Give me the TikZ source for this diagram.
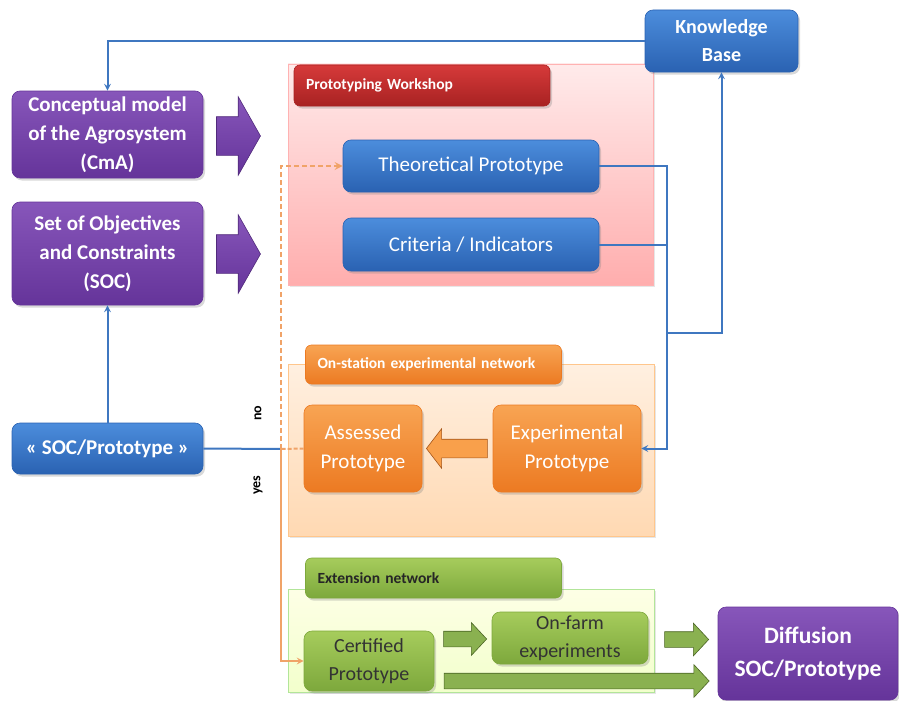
\documentclass[tikz,border=0pt]{standalone}
\usepackage{fontspec}
\setmainfont{Carlito}
\usetikzlibrary{shapes.arrows,shadows}

\definecolor{bluetop}{HTML}{4C8DDC}
\definecolor{bluebot}{HTML}{2A62B2}
\definecolor{blueline}{HTML}{3F77C0}
\definecolor{purptop}{HTML}{8756BA}
\definecolor{purpbot}{HTML}{65349A}
\definecolor{redtop}{HTML}{D63A3A}
\definecolor{redbot}{HTML}{A82222}
\definecolor{orgtop}{HTML}{F8A453}
\definecolor{orgbot}{HTML}{EC7A22}
\definecolor{grntop}{HTML}{A6CC5C}
\definecolor{grnbot}{HTML}{7DA83C}
\definecolor{orgline}{HTML}{F0A368}

\tikzstyle{box}=[shape=rectangle,
                rounded corners=8pt,
                align=center,
                inner sep=2pt,
                drop shadow={shadow xshift=2pt,shadow yshift=-2.5pt,opacity=.3}]
\tikzstyle{bbox}=[box,top color=bluetop,bottom color=bluebot,draw=bluebot,text=white]
\tikzstyle{pbox}=[box,top color=purptop,bottom color=purpbot,draw=purpbot,text=white,
                font=\bfseries\fontsize{21}{29}\selectfont]
\tikzstyle{obox}=[box,top color=orgtop,bottom color=orgbot,draw=orgbot,text=white,
                font=\fontsize{21}{29}\selectfont]
\tikzstyle{gbox}=[box,top color=grntop,bottom color=grnbot,draw=grnbot,text=black!80,
                font=\fontsize{20}{28}\selectfont]
\tikzstyle{zone}=[shape=rectangle,inner sep=0pt,
                drop shadow={shadow xshift=2pt,shadow yshift=-2pt,opacity=.2}]
\tikzstyle{tab}=[box,rounded corners=6pt,text width=232pt,align=left,
                inner xsep=12pt,font=\bfseries\fontsize{15.5}{17}\selectfont]
\tikzstyle{fat}=[single arrow,inner xsep=0pt,shape border uses incircle=false]
\tikzstyle{parrow}=[fat,top color=purptop,bottom color=purpbot,draw=purpbot!80!black,
                inner ysep=19pt,minimum height=44pt,single arrow head extend=20pt,
                single arrow tip angle=121]
\tikzstyle{garrow}=[fat,fill=grnbot!90!white,draw=grnbot!60!black,
                inner ysep=7.5pt,single arrow head extend=8.5pt,
                single arrow tip angle=94]

\begin{document}
\begin{tikzpicture}[x=1pt,y=-1pt,>=stealth,semithick]
\useasboundingbox (0,0) rectangle (899,701);

% group zones
\node[zone,top color=red!8,bottom color=red!32,draw=red!30,
      minimum width=365pt,minimum height=221pt] (pw) at (470.5,174.5) {};
\node[zone,top color=orange!12,bottom color=orange!30,draw=orange!45,
      minimum width=366pt,minimum height=172pt] (os) at (471,450) {};
\node[zone,top color=green!6!yellow!10,bottom color=green!25!yellow!20,draw=green!50!olive!40,
      minimum width=366pt,minimum height=103pt] (ex) at (471,640.5) {};

% zone titles
\node[tab,top color=redtop,bottom color=redbot,draw=redbot,text=white,
      minimum height=41pt] (pwt) at (422,85.5) {Prototyping Workshop};
\node[tab,top color=orgtop,bottom color=orgbot,draw=orgbot,text=white,
      minimum height=39pt] (ost) at (433.5,364.5) {On-station experimental network};
\node[tab,top color=grntop,bottom color=grnbot,draw=grnbot,text=black!85,
      minimum height=40pt] (ext) at (433.5,578) {Extension network};

% left column
\node[pbox,minimum width=191pt,minimum height=87pt] (cma) at (107.5,134.5)
     {Conceptual model\\of the Agrosystem\\(CmA)};
\node[pbox,minimum width=191pt,minimum height=103pt] (soc) at (107.5,253.5)
     {Set of Objectives\\and Constraints\\(SOC)};
\node[bbox,minimum width=191pt,minimum height=51pt,
      font=\bfseries\fontsize{21}{28}\selectfont] (socp) at (107.5,448.5)
     {« SOC/Prototype »};

% knowledge base
\node[bbox,minimum width=153pt,minimum height=62pt,
      font=\bfseries\fontsize{20}{28}\selectfont] (kb) at (721.5,41) {Knowledge\\Base};

% prototyping workshop
\node[bbox,minimum width=256pt,minimum height=52pt,
      font=\fontsize{21}{28}\selectfont] (tp) at (471,166) {Theoretical Prototype};
\node[bbox,minimum width=256pt,minimum height=53pt,
      font=\fontsize{21}{28}\selectfont] (ci) at (471,244.5) {Criteria / Indicators};

% on-station network
\node[obox,minimum width=118pt,minimum height=87pt] (ap) at (363,448.5) {Assessed\\Prototype};
\node[obox,minimum width=148pt,minimum height=87pt] (ep) at (567,448.5) {Experimental\\Prototype};

% extension network
\node[gbox,minimum width=130pt,minimum height=60pt] (cp) at (369,661) {Certified\\Prototype};
\node[gbox,minimum width=156pt,minimum height=52pt] (of) at (570,638) {On-farm\\experiments};
\node[pbox,minimum width=180pt,minimum height=93pt,
      font=\bfseries\fontsize{23.5}{33}\selectfont] (diff) at (808,653.5) {Diffusion\\SOC/Prototype};

% block arrows
\node[parrow] (a1) at (233,136) {};
\node[parrow] (a2) at (233,254) {};
\node[fat,fill=orgtop!90!orange,draw=orgbot!70!black,shape border rotate=180,
      inner ysep=9pt,minimum height=61pt,single arrow head extend=10.5pt,
      single arrow tip angle=105] (a3) at (460.5,448.5) {};
\node[garrow,minimum height=43pt] (a4) at (461.5,639) {};
\node[garrow,minimum height=44pt] (a5) at (683,639.5) {};
\node[garrow,minimum height=265pt] (a6) at (573,681) {};

% junction points
\coordinate (rx) at (667,0);
\coordinate (kbj) at (667,333);
\coordinate (dec) at (281,449);

% blue links
\draw[->,blueline,line width=2pt] (kb.west) -| (cma.north);
\draw[->,blueline,line width=2pt] (socp.north) -- (soc.south);
\draw[->,blueline,line width=2pt] (tp.east) -| (rx |- ep.east) -- (ep.east);
\draw[blueline,line width=2pt] (ci.east) -- (rx |- ci.east);
\draw[->,blueline,line width=2pt] (kbj) -| (kb.south);
\draw[blueline,line width=2pt] (socp.east) -- (dec);

% decision
\draw[orgline,line width=2pt,dash pattern=on 4pt off 2pt] (ap.west) -- (dec);
\draw[->,orgline,line width=2.5pt,dash pattern=on 5pt off 3pt] (dec) |- (tp.west);
\draw[->,orgline,line width=2pt] (dec) |- (cp.west);
\node[rotate=90,font=\bfseries\fontsize{14}{16}\selectfont] (no) at (258,413) {no};
\node[rotate=90,font=\bfseries\fontsize{14}{16}\selectfont] (yes) at (258,485) {yes};
\end{tikzpicture}
\end{document}
